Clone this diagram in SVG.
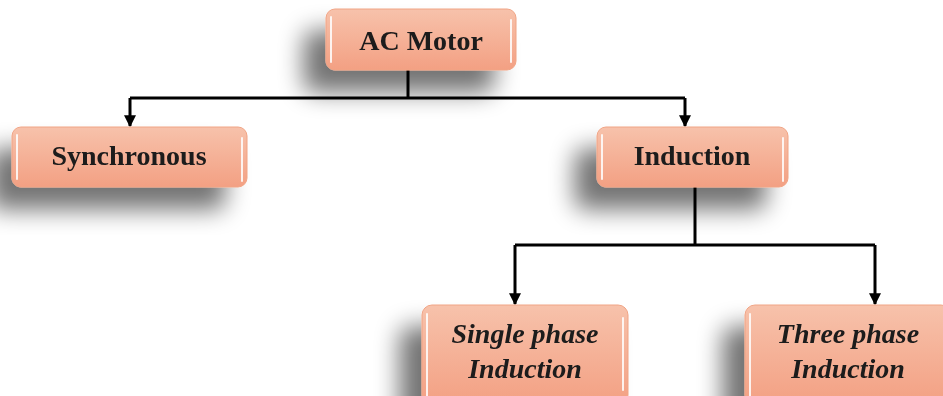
<svg xmlns="http://www.w3.org/2000/svg" width="943" height="396" viewBox="0 0 943 396">
<style>
.box{fill:url(#g);stroke:#f0a485;stroke-width:1}
.hl{stroke:#ffffff;stroke-width:2;stroke-linecap:round;opacity:0.85}
.t{font-family:"Liberation Serif",serif;font-weight:bold;font-size:28px;fill:#1a1a1a;text-anchor:middle}
.ti{font-style:italic}
.c{fill:none;stroke:#000;stroke-width:3}
</style>
<defs>
<linearGradient id="g" x1="0" y1="0" x2="0" y2="1">
<stop offset="0" stop-color="#f7c2ab"/>
<stop offset="1" stop-color="#f3a083"/>
</linearGradient>
<filter id="sh" x="-40%" y="-60%" width="180%" height="240%">
<feOffset in="SourceAlpha" dx="-22" dy="22" result="o"/>
<feGaussianBlur in="o" stdDeviation="12" result="b"/>
<feComponentTransfer in="b" result="s"><feFuncA type="linear" slope="0.55"/></feComponentTransfer>
<feMerge><feMergeNode in="s"/><feMergeNode in="SourceGraphic"/></feMerge>
</filter>
<marker id="ar" viewBox="0 0 10 10" refX="9" refY="5" markerWidth="4" markerHeight="4" orient="auto" markerUnits="strokeWidth">
<path d="M0,0 L10,5 L0,10 z" fill="#000"/>
</marker>
</defs>
<g id="connectors">
<path class="c" d="M408,70 V98"/>
<path class="c" d="M130,98 H685"/>
<path class="c" d="M130,98 V126" marker-end="url(#ar)"/>
<path class="c" d="M685,98 V126" marker-end="url(#ar)"/>
<path class="c" d="M695,187 V245"/>
<path class="c" d="M515,245 H875"/>
<path class="c" d="M515,245 V304" marker-end="url(#ar)"/>
<path class="c" d="M875,245 V304" marker-end="url(#ar)"/>
</g>
<g id="ac-motor" filter="url(#sh)">
<rect class="box" x="326" y="9" width="190" height="61" rx="9"/>
<line class="hl" x1="331" y1="17" x2="331" y2="62"/>
<line class="hl" x1="511" y1="20" x2="511" y2="62"/>
<text class="t" x="421" y="50">AC Motor</text>
</g>
<g id="synchronous" filter="url(#sh)">
<rect class="box" x="12" y="127" width="235" height="60" rx="9"/>
<line class="hl" x1="17" y1="135" x2="17" y2="179"/>
<line class="hl" x1="242" y1="138" x2="242" y2="181"/>
<text class="t" x="129" y="165">Synchronous</text>
</g>
<g id="induction" filter="url(#sh)">
<rect class="box" x="597" y="127" width="191" height="60" rx="9"/>
<line class="hl" x1="602" y1="135" x2="602" y2="179"/>
<line class="hl" x1="783" y1="138" x2="783" y2="181"/>
<text class="t" x="692" y="165">Induction</text>
</g>
<g id="single-phase" filter="url(#sh)">
<rect class="box" x="422" y="305" width="206" height="100" rx="10"/>
<line class="hl" x1="427" y1="314" x2="427" y2="396"/>
<line class="hl" x1="623" y1="318" x2="623" y2="390"/>
<text class="t ti" x="525" y="343">Single phase</text>
<text class="t ti" x="525" y="378">Induction</text>
</g>
<g id="three-phase" filter="url(#sh)">
<rect class="box" x="745" y="305" width="206" height="100" rx="10"/>
<line class="hl" x1="750" y1="314" x2="750" y2="396"/>
<text class="t ti" x="848" y="343">Three phase</text>
<text class="t ti" x="848" y="378">Induction</text>
</g>
</svg>
